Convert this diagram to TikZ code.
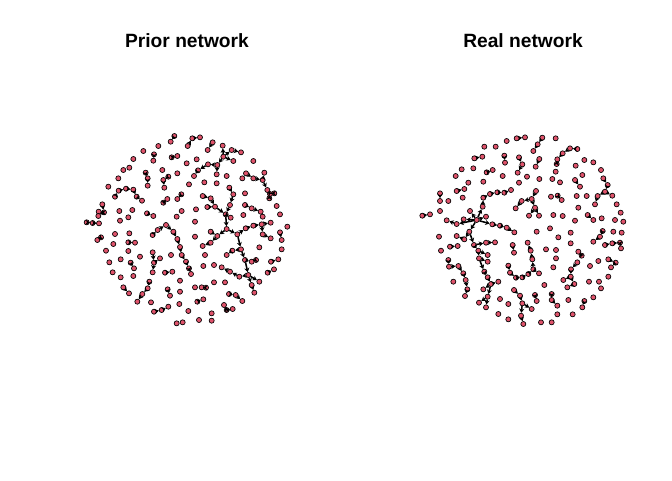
\documentclass[tikz,border=0pt]{standalone}
\usepackage{fontspec}
\setmainfont{Liberation Sans}
\usetikzlibrary{arrows.meta}
\definecolor{nodecol}{HTML}{DF536B}
\tikzset{
  nd/.style={circle,fill=nodecol,draw=black,line width=0.5pt,inner sep=0pt,minimum size=3.8pt},
  ed/.style={draw=black,line width=1.15pt,-{Stealth[length=3.2pt,width=3.8pt]}},
  ttl/.style={font=\bfseries\fontsize{14.4}{17}\selectfont,anchor=base,inner sep=0pt}
}
\begin{document}
\begin{tikzpicture}[x=0.75pt,y=-0.75pt]
\useasboundingbox (0,0) rectangle (672,480);
\fill[white] (0,0) rectangle (672,480);
\node[ttl] (t1) at (187,47.5) {Prior network};
\node[ttl] (t2) at (523,47.5) {Real network};
% ---------- Prior network ----------
\begin{scope}[shift={(80,125)},x=0.25pt,y=-0.25pt]
\foreach \n/\x/\y in {1/283/33,2/272/50,3/323/63,4/337/40,5/360/37,6/398/52,7/383/75,8/235/63,9/190/78,10/222/88,
11/220/107,12/275/97,13/292/93,14/160/102,15/320/115,16/350/103,17/130/135,18/148/128,19/115/160,20/197/143,
21/203/160,22/203/182,23/247/135,24/265/155,25/250/165,26/253/188,27/292/145,28/430/95,29/428/62,30/455/75,
31/483/82,32/460/108,33/412/120,34/410/148,35/384/118,36/354/136,37/342/153,38/373/172,39/410/175,40/440/153,
41/487/160,42/520/108,43/498/145,44/520/160,45/548/165,46/562/195,47/570/207,48/583/205,49/568/220,50/553/143,
51/327/178,52/495/205,53/85/185,54/105/215,55/116/197,56/138/191,57/160/194,58/170/215,59/186/227,60/67/238,
61/56/260,62/72/262,63/55/273,64/20/292,65/38/294,66/57/295,67/118/258,68/157/255,69/145/277,70/120/287,
71/201/265,72/220/273,73/262/222,74/250/233,75/304/208,76/292/222,77/305/258,78/290/275,79/348/253,80/345/290,
81/448/188,82/460/208,83/450/240,84/437/268,85/368/213,86/392/220,87/405/245,88/382/246,89/452/278,90/440/312,
91/392/320,92/412/333,93/392/353,94/368/363,95/472/328,96/497/310,97/520/302,98/545/298,99/572/293,100/548/328,
101/572/340,102/483/373,103/457/377,104/440/390,105/495/405,106/515/410,107/528/405,108/505/450,109/478/455,110/450/440,
111/425/427,112/515/480,113/523/503,114/538/470,115/600/322,116/605/345,117/622/305,118/600/268,119/590/243,120/548/275,
121/495/240,122/515/250,123/542/260,124/490/270,125/538/367,126/563/443,127/582/433,128/573/410,129/595/403,130/605/373,
131/52/345,132/63/337,133/105/327,134/148/325,135/100/357,136/145/352,137/165/353,138/78/377,139/145/378,140/180/395,
141/88/412,142/122/403,143/152/413,144/162/430,145/98/442,146/122/457,147/160/453,148/218/382,149/222/413,150/240/400,
151/218/442,152/255/443,153/277/440,154/273/390,155/218/330,156/233/315,157/258/300,158/280/320,159/292/342,160/300/366,
161/305/390,162/318/410,163/327/430,164/333/447,165/208/470,166/203/490,167/187/507,168/172/530,169/130/487,170/147/505,
171/213/532,172/222/560,173/245/555,174/265/545,175/263/493,176/270/512,177/300/467,178/300/500,179/298/537,180/325/558,
181/290/595,182/308/592,183/357/585,184/395/587,185/395/565,186/352/530,187/370/523,188/345/487,189/365/487,190/378/488,
191/402/472,192/435/472,193/432/540,194/440/555,195/458/552,196/447/507,197/467/510,198/487/528,199/370/423,200/402/420,
201/375/390,202/345/335}
  \node[nd] (L\n) at (\x,\y) {};
\foreach \a/\b in {1/2,3/4,4/5,6/7,10/11,12/13,20/21,21/22,24/25,25/26,
28/29,28/30,30/31,28/32,28/33,33/34,33/35,35/36,36/37,
43/44,44/45,45/46,46/47,47/48,47/49,45/50,
54/55,55/56,56/57,57/58,58/59,60/62,61/62,62/63,64/65,65/66,
71/72,73/74,75/76,
81/82,82/83,83/84,85/86,86/87,87/84,88/87,84/89,84/90,
90/92,91/92,92/93,93/94,
90/95,95/96,96/97,97/98,98/99,98/100,100/101,
95/102,102/103,103/104,102/105,105/106,106/107,105/108,108/109,109/110,110/111,108/112,112/113,108/114,
121/122,122/123,115/116,126/127,128/129,
131/132,136/137,143/144,148/149,149/151,149/150,152/153,
155/156,156/157,157/158,158/159,159/160,160/161,161/162,162/163,163/164,
165/166,166/167,167/168,169/170,172/173,173/174,175/176,
186/187,189/190,193/194,194/195,196/197,197/198}
  \draw[ed] (L\a) -- (L\b);
\end{scope}
% ---------- Real network ----------
\begin{scope}[shift={(415,125)},x=0.25pt,y=-0.25pt]
\foreach \n/\x/\y in {1/305/40,2/330/37,3/382/38,4/368/58,5/355/78,6/422/40,7/275/48,8/242/65,9/208/65,10/268/92,
11/270/113,12/178/100,13/202/95,14/312/97,15/322/118,16/308/143,17/140/133,18/175/130,19/215/142,20/233/135,
21/122/153,22/263/153,23/160/173,24/205/170,25/312/173,26/125/198,27/148/192,28/75/205,29/75/228,30/100/228,
31/143/218,32/22/272,33/45/268,34/75/258,35/487/72,36/465/70,37/443/85,38/427/103,39/425/117,40/373/102,
41/362/125,42/336/155,43/373/162,44/412/162,45/435/172,46/422/140,47/482/122,48/508/105,49/535/112,50/558/135,
51/502/150,52/480/165,53/495/185,54/565/160,55/578/180,56/570/200,57/592/212,58/548/213,59/540/238,60/605/238,
61/617/263,62/600/285,63/625/290,64/408/215,65/428/212,66/440/225,67/485/213,68/515/213,69/490/248,70/518/270,
71/535/285,72/560/280,73/415/270,74/443/273,75/480/287,76/363/198,77/350/222,78/320/228,79/302/250,80/360/248,
81/372/272,82/342/272,83/185/285,84/165/258,85/146/283,86/203/245,87/205/218,88/225/207,89/247/202,90/268/203,
91/288/195,92/213/275,93/232/298,94/255/302,95/275/308,96/298/322,97/125/297,98/95/286,99/163/320,100/148/343,
101/125/333,102/177/360,103/213/353,104/240/352,105/190/377,106/218/390,107/192/400,108/218/410,109/208/440,110/218/457,
111/228/477,112/250/470,113/205/493,114/218/515,115/192/533,116/213/547,117/105/365,118/128/363,119/100/405,120/102/425,
121/130/423,122/145/445,123/152/465,124/157/493,125/150/513,126/115/470,127/72/335,128/78/377,129/293/360,130/297/383,
131/365/320,132/405/310,133/430/337,134/467/323,135/393/373,136/423/375,137/423/400,138/415/427,139/280/422,140/285/443,
141/303/458,142/322/457,143/340/447,144/355/433,145/352/403,146/347/377,147/338/353,148/372/445,149/490/380,150/500/392,
151/487/412,152/468/433,153/467/455,154/445/465,155/478/477,156/457/487,157/525/423,158/550/408,159/580/403,160/602/413,
161/588/427,162/580/455,163/552/470,164/522/470,165/558/490,166/535/517,167/508/528,168/502/547,169/460/525,170/473/568,
171/427/568,172/410/507,173/410/525,174/427/542,175/360/510,176/365/528,177/378/592,178/410/592,179/388/480,180/297/495,
181/315/512,182/322/535,183/350/552,184/318/572,185/325/597,186/255/522,187/280/537,188/250/567,189/280/583,190/595/320,
191/620/323,192/563/318,193/555/335,194/535/350,195/570/360,196/592/355,197/615/353,198/618/370,199/467/355}
  \node[nd] (R\n) at (\x,\y) {};
\foreach \a/\b in {1/2,3/4,4/5,10/11,12/13,14/15,15/16,19/20,26/27,28/29,32/33,
35/36,36/37,37/38,38/39,40/41,52/53,
54/55,55/56,56/57,56/58,58/59,65/66,70/71,
76/77,77/78,78/79,77/80,80/81,80/82,
83/84,83/85,83/86,86/87,87/88,88/89,89/90,90/91,83/92,83/93,93/94,94/95,95/96,83/97,97/98,83/99,
99/100,100/101,99/102,102/103,103/104,102/105,105/106,105/107,107/108,107/109,109/110,110/111,111/112,111/113,111/114,114/115,114/116,
117/118,119/120,120/121,121/122,122/123,123/124,124/125,129/130,
139/140,140/141,141/142,142/143,143/144,144/145,145/146,146/147,144/148,149/150,
151/152,152/153,153/154,153/155,155/156,159/160,160/161,167/168,
172/173,173/174,175/176,180/181,181/182,182/183,182/184,184/185,
192/193,193/194,195/196,196/197,197/198}
  \draw[ed] (R\a) -- (R\b);
\end{scope}
\end{tikzpicture}
\end{document}
